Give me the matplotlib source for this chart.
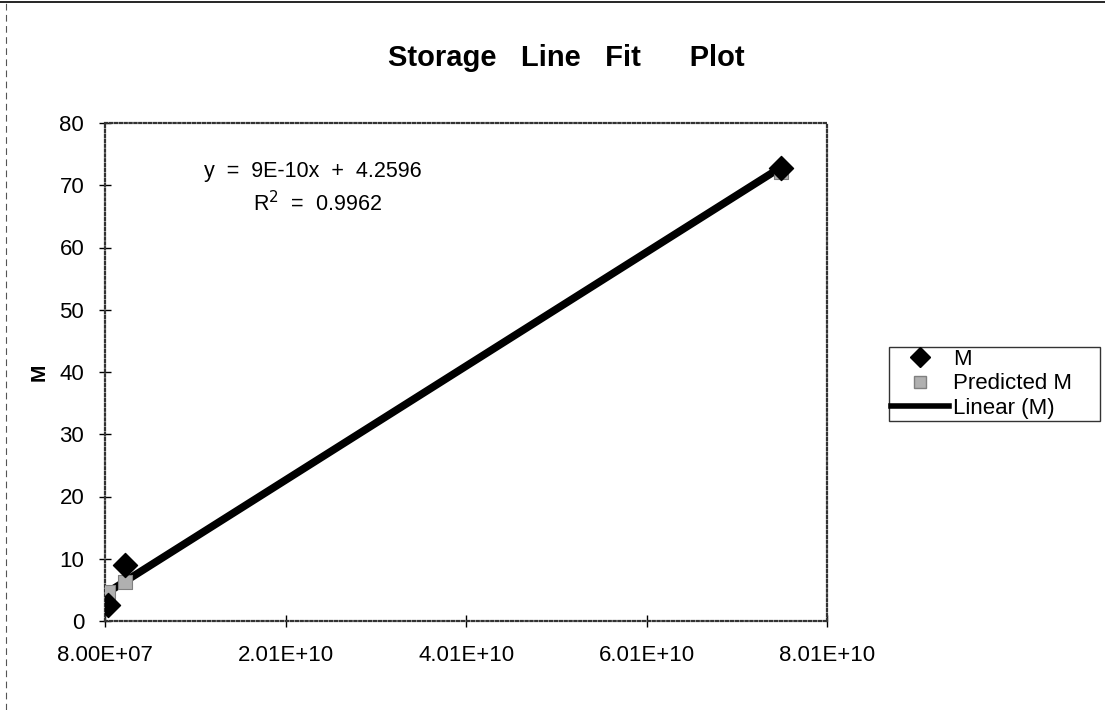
import matplotlib
matplotlib.use("Agg")
import matplotlib.pyplot as plt
from matplotlib.lines import Line2D
import numpy as np

plt.rcParams['font.family'] = ['Liberation Sans', 'DejaVu Sans']

# data
x_storage = [4.0e8, 2.3e9, 7.5e10]
m_values = [2.5, 9.0, 72.8]
predicted_m = [4.6, 6.3, 72.2]
trend_slope = 9.15e-10
trend_intercept = 4.2596
trend_x = [8.0e7, 7.5e10]
x_ticks = [8.0e7, 2.01e10, 4.01e10, 6.01e10, 8.01e10]
x_tick_labels = ["8.00E+07", "2.01E+10", "4.01E+10", "6.01E+10", "8.01E+10"]
y_ticks = [0, 10, 20, 30, 40, 50, 60, 70, 80]

W, H = 1105, 710
fig = plt.figure(figsize=(W / 100, H / 100), dpi=100)
ax = fig.add_axes([105 / W, 1 - 621 / H, (827 - 105) / W, (621 - 123) / H])

tx = np.array(trend_x)
ax.plot(tx, trend_slope * tx + trend_intercept, color='black', lw=5.5,
        solid_capstyle='round', zorder=2)
ax.scatter(x_storage, predicted_m, marker='s', s=110, facecolor='#b0b0b0',
           edgecolor='#808080', linewidths=0.8, zorder=3)
ax.scatter(x_storage, m_values, marker='D', s=150, facecolor='black',
           edgecolor='black', zorder=4)

ax.set_xlim(8.0e7, 8.01e10)
ax.set_ylim(0, 80)
ax.set_xticks(x_ticks)
ax.set_xticklabels(x_tick_labels)
ax.set_yticks(y_ticks)
ax.tick_params(axis='both', direction='inout', length=8, width=1,
               labelsize=16)
ax.tick_params(axis='x', pad=13)
ax.tick_params(axis='y', pad=11)
for s in ax.spines.values():
    s.set_linestyle((0, (1, 1.2)))
    s.set_linewidth(1.6)
    s.set_color('#333333')

ax.set_ylabel('M', fontsize=15, fontweight='bold', labelpad=8)

ax.text(313 / W, 1 - 172 / H, 'y  =  9E-10x  +  4.2596',
        transform=fig.transFigure, ha='center', va='center', fontsize=15.5)
ax.text(318 / W, 1 - 204 / H, r'R$^{2}$  =  0.9962',
        transform=fig.transFigure, ha='center', va='center', fontsize=15.5)

fig.text(566 / W, 1 - 58 / H, 'Storage   Line   Fit      Plot', ha='center',
         va='center', fontsize=21, fontweight='bold')

handles = [
    Line2D([], [], marker='D', color='black', ls='none', markersize=10),
    Line2D([], [], marker='s', color='#b0b0b0', markeredgecolor='#808080',
           ls='none', markersize=9),
    Line2D([], [], color='black', lw=4),
]
leg = fig.legend(handles, ['M', 'Predicted M', 'Linear (M)'],
                 loc='lower left', mode='expand',
                 bbox_to_anchor=(889 / W, 1 - 421 / H, 211 / W, 70 / H),
                 fontsize=16, frameon=True, fancybox=False,
                 edgecolor='black', borderpad=0.1, handlelength=2.6,
                 handletextpad=0.2, labelspacing=0.15, borderaxespad=0)
leg.get_frame().set_linewidth(1.0)

# outer frame fragments
fig.add_artist(Line2D([0, 1], [1 - 2 / H, 1 - 2 / H], color='black', lw=1.2,
                      transform=fig.transFigure))
fig.add_artist(Line2D([6 / W, 6 / W], [0, 1], color='#555555', lw=0.8,
                      ls=(0, (6, 4)), transform=fig.transFigure))

fig.savefig('out.png', dpi=100)
